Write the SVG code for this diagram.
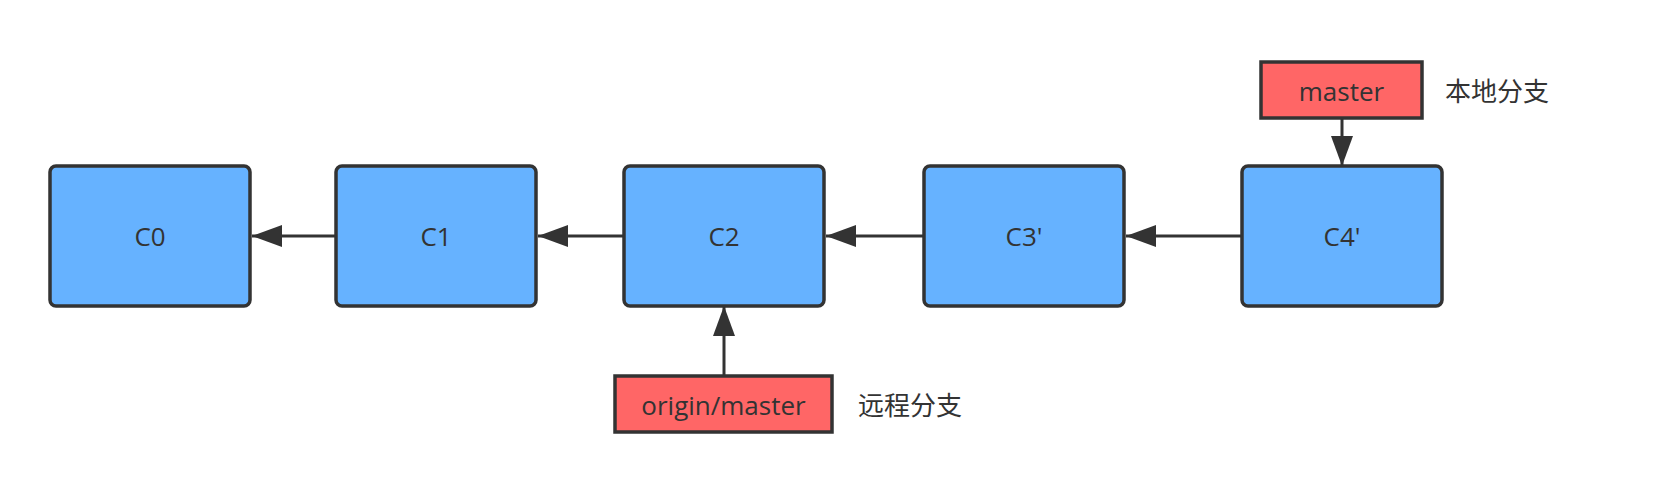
<svg xmlns="http://www.w3.org/2000/svg" width="1666" height="494" viewBox="0 0 1666 494">
<style>
.commit{fill:#66B2FF;stroke:#333333;stroke-width:3.5}
.branch{fill:#FF6666;stroke:#333333;stroke-width:3.5}
.lbl{font-family:"Open Sans","Noto Sans CJK SC",sans-serif;font-size:26px;fill:#333333}
.mid{text-anchor:middle}
.conn{stroke:#333333;stroke-width:3;fill:none}
</style>
<defs>
<marker id="arr" markerUnits="userSpaceOnUse" markerWidth="32" markerHeight="24" refX="30" refY="11" orient="auto" viewBox="0 0 32 24">
<path d="M0,0 L30,11 L0,22 Z" fill="#333333"/>
</marker>
</defs>
<rect width="1666" height="494" fill="#ffffff"/>
<g id="connectors">
<line class="conn" x1="336" y1="236" x2="252" y2="236" marker-end="url(#arr)"/>
<line class="conn" x1="624" y1="236" x2="538" y2="236" marker-end="url(#arr)"/>
<line class="conn" x1="924" y1="236" x2="826" y2="236" marker-end="url(#arr)"/>
<line class="conn" x1="1242" y1="236" x2="1126" y2="236" marker-end="url(#arr)"/>
<line class="conn" x1="1342" y1="119" x2="1342" y2="166" marker-end="url(#arr)"/>
<line class="conn" x1="724" y1="375" x2="724" y2="306" marker-end="url(#arr)"/>
</g>
<g id="C0">
<rect class="commit" x="50" y="166" width="200" height="140" rx="6"/>
<text class="lbl mid" x="150" y="246">C0</text>
</g>
<g id="C1">
<rect class="commit" x="336" y="166" width="200" height="140" rx="6"/>
<text class="lbl mid" x="436" y="246">C1</text>
</g>
<g id="C2">
<rect class="commit" x="624" y="166" width="200" height="140" rx="6"/>
<text class="lbl mid" x="724" y="246">C2</text>
</g>
<g id="C3p">
<rect class="commit" x="924" y="166" width="200" height="140" rx="6"/>
<text class="lbl mid" x="1024" y="246">C3'</text>
</g>
<g id="C4p">
<rect class="commit" x="1242" y="166" width="200" height="140" rx="6"/>
<text class="lbl mid" x="1342" y="246">C4'</text>
</g>
<g id="master">
<rect class="branch" x="1261" y="62" width="161" height="56"/>
<text class="lbl mid" x="1341.5" y="101">master</text>
</g>
<g id="origin-master">
<rect class="branch" x="615" y="376" width="217" height="56"/>
<text class="lbl mid" x="723.5" y="415">origin/master</text>
</g>
<g id="label-local">
<text class="lbl" x="1445" y="101">本地分支</text>
</g>
<g id="label-remote">
<text class="lbl" x="858" y="415">远程分支</text>
</g>
</svg>
